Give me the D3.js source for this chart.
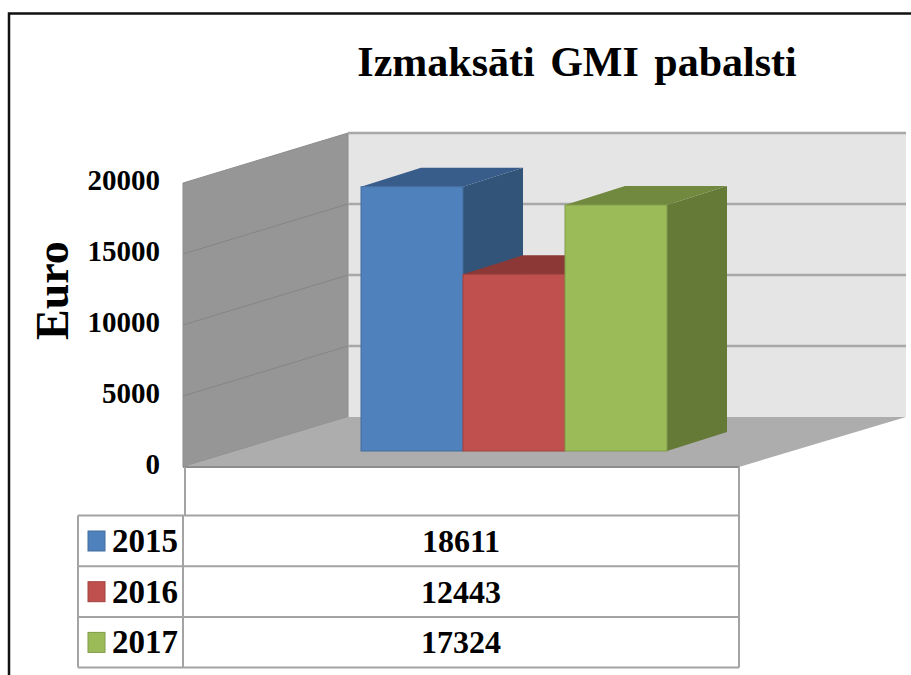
<!DOCTYPE html>
<html>
<head>
<meta charset="utf-8">
<script src="https://d3js.org/d3.v7.min.js"></script>
<style>
  body { margin: 0; background: #fff; }
  svg { display: block; }
  text { font-family: "Liberation Serif", serif; font-weight: bold; fill: #000; }
</style>
</head>
<body>
<div id="chart"></div>
<script>
// Chart values
const years = ["2015", "2016", "2017"];
const values = [18611, 12443, 17324];
const ticks = [0, 5000, 10000, 15000, 20000];
const frontFill = ["#4f81bd", "#c0504d", "#9bbb59"];
const sideFill = ["#325479", "#8c3836", "#657a37"];
const topFill = ["#385d8a", "#8c3836", "#71893f"];

const svg = d3.select("#chart").append("svg")
    .attr("width", 911)
    .attr("height", 675);

// Scales: height in px of a value, and bar positions along the front of the box
const h = d3.scaleLinear().domain([0, 20000]).range([0, 284]);
const x = d3.scaleBand().domain(years).range([361, 667]);

const wall = {left: 183, back: 348, right: 906, frontY: 467, backY: 417, floorRight: 739};
const barBase = 451, depthX = 60, depthY = 19;

// Back wall
svg.append("rect")
    .attr("x", wall.back).attr("y", wall.backY - h(20000))
    .attr("width", wall.right - wall.back).attr("height", h(20000))
    .attr("fill", "#e5e5e5");

// Left wall
svg.append("polygon")
    .attr("points", [
      [wall.left, wall.frontY], [wall.left, wall.frontY - h(20000)],
      [wall.back, wall.backY - h(20000)], [wall.back, wall.backY]
    ].join(" "))
    .attr("fill", "#969696")
    .attr("stroke", "#8c8c8c");

// Floor
svg.append("polygon")
    .attr("points", [
      [wall.left, wall.frontY], [wall.back, wall.backY],
      [wall.right, wall.backY], [wall.floorRight, wall.frontY]
    ].join(" "))
    .attr("fill", "#adadad");
svg.append("line")
    .attr("x1", wall.left).attr("x2", wall.floorRight)
    .attr("y1", wall.frontY).attr("y2", wall.frontY)
    .attr("stroke", "#8c8c8c").attr("stroke-width", 2);

// Gridlines on both walls
ticks.forEach(t => {
  svg.append("line")
      .attr("x1", wall.back).attr("x2", wall.right)
      .attr("y1", wall.backY - h(t)).attr("y2", wall.backY - h(t))
      .attr("stroke", t === 0 ? "none" : "#a8a8a8").attr("stroke-width", 2.5);
  svg.append("line")
      .attr("x1", wall.left).attr("x2", wall.back)
      .attr("y1", wall.frontY - h(t)).attr("y2", wall.backY - h(t))
      .attr("stroke", t === 0 || t === 20000 ? "none" : "#858585");
});

// Bars, drawn left to right so each one hides the previous side face
years.forEach((year, i) => {
  const x0 = x(year), x1 = x0 + x.bandwidth(), yTop = barBase - h(values[i]);
  svg.append("polygon")
      .attr("points", [
        [x1, barBase], [x1, yTop], [x1 + depthX, yTop - depthY], [x1 + depthX, barBase - depthY]
      ].join(" "))
      .attr("fill", sideFill[i]);
  svg.append("polygon")
      .attr("points", [
        [x0, yTop], [x0 + depthX, yTop - depthY], [x1 + depthX, yTop - depthY], [x1, yTop]
      ].join(" "))
      .attr("fill", topFill[i]);
  svg.append("rect")
      .attr("x", x0).attr("y", yTop)
      .attr("width", x.bandwidth()).attr("height", h(values[i]))
      .attr("fill", frontFill[i])
      .attr("stroke", d3.color(frontFill[i]).darker(0.5))
      .attr("stroke-width", 1);
});

// Y axis labels
ticks.forEach(t => {
  svg.append("text")
      .attr("x", 160)
      .attr("y", wall.frontY - h(t) + 7)
      .attr("text-anchor", "end")
      .style("font-size", "29px")
      .text(t);
});

// Y axis title
svg.append("text")
    .attr("transform", "translate(68,340) rotate(-90)")
    .style("font-size", "46px")
    .text("Euro");

// Title
svg.append("text")
    .attr("x", 577)
    .attr("y", 76)
    .attr("text-anchor", "middle")
    .style("font-size", "42px")
    .style("word-spacing", "5px")
    .text("Izmaksāti GMI pabalsti");

// Data table
const table = {left: 78, key: 183, right: 739, top: 515.5, rowH: 50.7};
const rowY = i => table.top + i * table.rowH;
const lineColor = "#a3a3a3";

function tableLine(x1, y1, x2, y2) {
  svg.append("line")
      .attr("x1", x1).attr("y1", y1).attr("x2", x2).attr("y2", y2)
      .attr("stroke", lineColor).attr("stroke-width", 2);
}

d3.range(years.length + 1).forEach(i => tableLine(table.left, rowY(i), table.right, rowY(i)));
tableLine(table.left, rowY(0), table.left, rowY(3));
tableLine(table.key, rowY(0), table.key, rowY(3));
tableLine(table.right, wall.frontY, table.right, rowY(3));
tableLine(185, wall.frontY, 185, rowY(0));

years.forEach((year, i) => {
  const baseline = rowY(i) + 36.5;
  svg.append("rect")
      .attr("x", 88).attr("y", baseline - 21)
      .attr("width", 17).attr("height", 20)
      .attr("fill", frontFill[i])
      .attr("stroke", d3.color(frontFill[i]).darker(0.5));
  svg.append("text")
      .attr("x", 112).attr("y", baseline)
      .style("font-size", "33px")
      .text(year);
  svg.append("text")
      .attr("x", 461).attr("y", baseline)
      .attr("text-anchor", "middle")
      .style("font-size", "32px")
      .text(values[i]);
});

// Image frame
svg.append("path")
    .attr("d", "M9,675V13.5H911")
    .attr("fill", "none")
    .attr("stroke", "#111")
    .attr("stroke-width", 2.5);
</script>
</body>
</html>
